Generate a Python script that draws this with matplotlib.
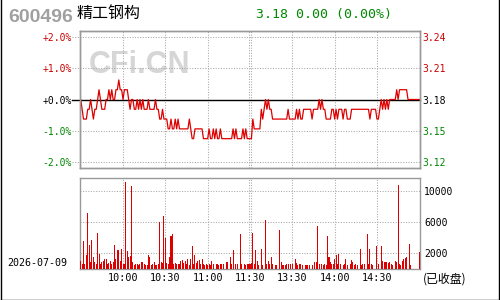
import matplotlib
matplotlib.use("Agg")
import matplotlib.pyplot as plt
import numpy as np
from matplotlib.lines import Line2D

# ---------------- data ----------------
code = "600496"
name = "精工钢构"
date_label = "2026-07-09"
status_label = "(已收盘)"
prev_close = 3.18

prices = [
    3.18, 3.17, 3.16, 3.16, 3.16, 3.17, 3.17, 3.18, 3.17, 3.16,
    3.17, 3.17, 3.18, 3.19, 3.18, 3.17, 3.17, 3.17, 3.18, 3.18,
    3.19, 3.18, 3.19, 3.18, 3.18, 3.19, 3.19, 3.20, 3.19, 3.19,
    3.18, 3.19, 3.19, 3.19, 3.18, 3.17, 3.18, 3.18, 3.17, 3.17,
    3.18, 3.17, 3.18, 3.17, 3.18, 3.17, 3.17, 3.17, 3.18, 3.17,
    3.17, 3.17, 3.17, 3.18, 3.17, 3.17, 3.16, 3.16, 3.17, 3.16,
    3.16, 3.16, 3.15, 3.15, 3.16, 3.15, 3.15, 3.16, 3.15, 3.16,
    3.15, 3.15, 3.15, 3.15, 3.15, 3.15, 3.15, 3.16, 3.15, 3.14,
    3.14, 3.15, 3.15, 3.15, 3.15, 3.15, 3.15, 3.14, 3.14, 3.14,
    3.14, 3.15, 3.14, 3.14, 3.15, 3.14, 3.15, 3.14, 3.14, 3.15,
    3.14, 3.14, 3.14, 3.14, 3.14, 3.14, 3.14, 3.14, 3.15, 3.14,
    3.15, 3.14, 3.14, 3.14, 3.14, 3.15, 3.14, 3.15, 3.14, 3.14,
    3.14, 3.14, 3.16, 3.15, 3.15, 3.15, 3.15, 3.15, 3.17, 3.16,
    3.17, 3.18, 3.17, 3.18, 3.17, 3.17, 3.16, 3.16, 3.16, 3.16,
    3.16, 3.16, 3.16, 3.16, 3.16, 3.16, 3.16, 3.17, 3.16, 3.16,
    3.16, 3.16, 3.16, 3.17, 3.16, 3.17, 3.16, 3.16, 3.17, 3.17,
    3.17, 3.17, 3.17, 3.17, 3.16, 3.17, 3.17, 3.17, 3.17, 3.18,
    3.17, 3.18, 3.17, 3.17, 3.16, 3.16, 3.16, 3.16, 3.17, 3.17,
    3.16, 3.17, 3.16, 3.17, 3.17, 3.17, 3.16, 3.17, 3.17, 3.16,
    3.16, 3.16, 3.17, 3.17, 3.17, 3.17, 3.17, 3.17, 3.17, 3.17,
    3.17, 3.17, 3.17, 3.17, 3.17, 3.16, 3.17, 3.17, 3.17, 3.17,
    3.16, 3.16, 3.17, 3.18, 3.17, 3.18, 3.17, 3.18, 3.17, 3.18,
    3.18, 3.18, 3.18, 3.18, 3.19, 3.18, 3.19, 3.19, 3.19, 3.19,
    3.19, 3.19, 3.18, 3.18, 3.18, 3.18, 3.18, 3.18, 3.18, 3.18,
    3.18,
]

volumes = [
    980, 600, 3600, 700, 1800, 7100, 3000, 850, 3700, 1500,
    850, 680, 4600, 1960, 680, 850, 1060, 1320, 1320, 680,
    770, 1060, 600, 940, 3100, 1320, 2430, 2430, 1060, 2550,
    680, 680, 11150, 2250, 1490, 1700, 10550, 850, 500, 680,
    680, 550, 680, 850, 940, 680, 550, 550, 1790, 1490,
    550, 700, 940, 550, 550, 680, 6040, 940, 770, 6720,
    3910, 770, 680, 1490, 4250, 4510, 600, 770, 700, 680,
    700, 1060, 1190, 770, 1060, 700, 1320, 550, 1320, 2940,
    700, 1790, 770, 980, 1190, 680, 1320, 680, 550, 600,
    550, 680, 550, 1060, 680, 0, 680, 680, 550, 680,
    680, 680, 0, 940, 940, 0, 1490, 680, 2430, 0,
    680, 680, 0, 4510, 680, 0, 680, 550, 680, 680,
    700, 770, 4640, 680, 2430, 1060, 550, 0, 2600, 550,
    0, 6300, 680, 1060, 680, 1530, 680, 0, 550, 550,
    0, 5020, 940, 550, 550, 550, 680, 680, 0, 680,
    680, 0, 1320, 770, 550, 600, 680, 550, 0, 550,
    550, 550, 550, 0, 550, 0, 940, 940, 5530, 680,
    0, 680, 550, 600, 550, 4250, 1490, 940, 680, 680,
    1320, 1830, 680, 1960, 680, 0, 550, 680, 1320, 550,
    0, 680, 1190, 940, 550, 680, 550, 0, 2600, 550,
    600, 680, 0, 4400, 680, 2500, 600, 550, 0, 0,
    2940, 680, 0, 2980, 1060, 940, 940, 940, 770, 940,
    680, 550, 0, 1060, 940, 10770, 680, 550, 1060, 1320,
    1400, 1530, 0, 3200, 550, 0, 0, 0, 0, 0,
    2200,
]

pct_ticks = [2, 1, 0, -1, -2]
pct_labels = ["+2.0%", "+1.0%", "+0.0%", "-1.0%", "-2.0%"]
vol_ticks = [2000, 6000, 10000]
vol_labels = ["2000", "6000", "10000"]
time_ticks = [30, 60, 90, 120, 150, 180, 210]
time_labels = ["10:00", "10:30", "11:00", "11:30", "13:30", "14:00", "14:30"]

# ---------------- style ----------------
RED = "#dd0000"
LRED = "#cc0000"
GREEN = "#008800"
GRID = "#a8a8a8"
FRAME = "#999999"
MONO = "DejaVu Sans Mono"
CJK = ["Noto Sans CJK SC", "DejaVu Sans"]
DOT = (0, (1, 1.5))

W, H = 500, 300
fig = plt.figure(figsize=(W / 100, H / 100), dpi=100)
fig.patch.set_facecolor("white")


def fx(px):
    return px / W


def fy(py):
    return 1 - py / H


L, R = 80, 420
ax = fig.add_axes([fx(L), fy(168), (R - L) / W, (168 - 31) / H])
axv = fig.add_axes([fx(L), fy(269), (R - L) / W, (269 - 178) / H])

x = np.arange(len(prices))
pct = (np.array(prices) / prev_close - 1) * 100

xlim = (-0.5, len(prices) - 0.5)

# ---- price panel ----
ax.set_xlim(*xlim)
ax.set_ylim(-2.2, 2.2)
ext = -8 / (R - L)
for p in pct_ticks:
    if p == 0:
        ax.axhline(0, xmin=ext, xmax=1, color="black", lw=1.0, clip_on=False, zorder=2)
    else:
        ax.axhline(p, xmin=ext, xmax=1, color=GRID, lw=0.75, ls=DOT, clip_on=False, zorder=1)
for t in time_ticks:
    if t == 120:
        for tt in (119.3, 120.7):
            ax.axvline(tt, color=GRID, lw=0.75, ls=DOT, zorder=1)
            axv.axvline(tt, color=GRID, lw=0.75, ls=DOT, zorder=1)
    else:
        ax.axvline(t, color=GRID, lw=0.75, ls=DOT, zorder=1)
        axv.axvline(t, color=GRID, lw=0.75, ls=DOT, zorder=1)

ax.text((89 - L) / (R - L), (168 - 65) / 137, "CFi.CN", transform=ax.transAxes,
        fontsize=22, fontweight="bold", color="#d6d6d6", family="Liberation Sans",
        va="center", ha="left", zorder=0)

ax.plot(x, pct, color=RED, lw=0.9, zorder=3)

ax.set_xticks([])
ax.set_yticks(pct_ticks)
ax.set_yticklabels(pct_labels, family=MONO, fontsize=7)
ax.tick_params(axis="y", length=0, pad=6)
label_cols = [LRED, LRED, "black", GREEN, GREEN]
for lab, c in zip(ax.get_yticklabels(), label_cols):
    lab.set_color(c)

ax2 = ax.twinx()
ax2.set_ylim(ax.get_ylim())
ax2.set_yticks(pct_ticks)
ax2.set_yticklabels([f"{prev_close * (1 + p / 100):.2f}" for p in pct_ticks], family=MONO, fontsize=7)
ax2.tick_params(axis="y", length=0, pad=1.5)
for lab, c in zip(ax2.get_yticklabels(), label_cols):
    lab.set_color(c)

for a in (ax, ax2, axv):
    for s in a.spines.values():
        s.set_color(FRAME)
        s.set_linewidth(1.0)

# ---- volume panel ----
axv.set_xlim(*xlim)
axv.set_ylim(0, 11600)
for v in vol_ticks:
    axv.axhline(v, color=GRID, lw=0.75, ls=DOT, zorder=1)
axv.bar(x, volumes, width=0.72, color=RED, linewidth=0, zorder=3)
axv.yaxis.tick_right()
axv.set_yticks(vol_ticks)
axv.set_yticklabels(vol_labels, family=MONO, fontsize=7)
axv.tick_params(axis="y", length=0, pad=3)
axv.set_xticks(time_ticks)
axv.set_xticklabels(time_labels, family=MONO, fontsize=7.3)
axv.tick_params(axis="x", length=0, pad=3)

# ---- header / footer texts ----
last = prices[-1]
chg = last - prev_close
chg_pct = chg / prev_close * 100
fig.text(fx(8), fy(17), code, color="#a0a0a0", fontsize=14, fontweight="bold",
         family="Liberation Sans", va="center", ha="left")
fig.text(fx(77), fy(13.5), name, color="black", fontsize=11.5, family=CJK,
         va="center", ha="left")
fig.text(fx(256), fy(14.5), f"{last:.2f} {chg:.2f} ({chg_pct:.2f}%)", color=GREEN,
         fontsize=9.5, family=MONO, va="center", ha="left")
fig.text(fx(7), fy(263), date_label, color="black", fontsize=7.2, family=MONO,
         va="center", ha="left")
fig.text(fx(423), fy(279.5), status_label, color="black", fontsize=8.6, family=CJK,
         va="center", ha="left")

# ---- outer frame ----
for (x0, y0, x1, y1) in [(0.5, 0, 0.5, 299.5), (0.5, 299.5, 498.5, 299.5), (498.5, 0, 498.5, 299.5)]:
    fig.add_artist(Line2D([fx(x0), fx(x1)], [fy(y0), fy(y1)], color="black", lw=1.0))

fig.savefig("out.png", dpi=100, facecolor="white")
